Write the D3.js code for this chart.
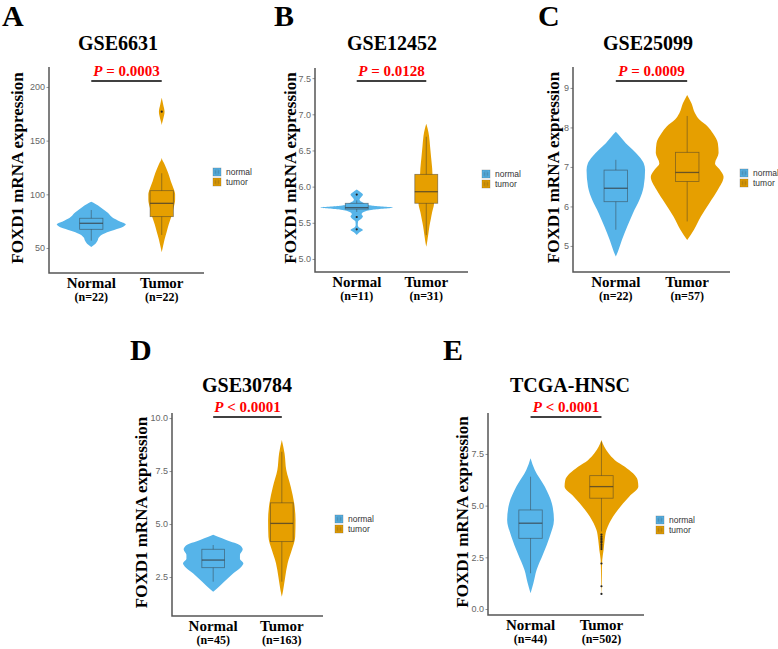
<!DOCTYPE html>
<html>
<head>
<meta charset="utf-8">
<script src="https://cdn.jsdelivr.net/npm/d3@7"></script>
<style>
  body { margin: 0; background: #fff; }
  svg { display: block; }
  .serif { font-family: "Liberation Serif", "Times New Roman", serif; font-weight: bold; }
  .sans { font-family: "Liberation Sans", Arial, sans-serif; }
</style>
</head>
<body>
<div class="wrapper"></div>
<script>
// ---------- data ----------
const panelIds = ["A", "B", "C", "D", "E"];
const datasets = ["GSE6631", "GSE12452", "GSE25099", "GSE30784", "TCGA-HNSC"];
const pLabels = ["= 0.0003", "= 0.0128", "= 0.0009", "< 0.0001", "< 0.0001"];
const groups = ["Normal", "Tumor"];
const legendKeys = ["normal", "tumor"];
const sampleSizes = [[22, 22], [11, 31], [22, 57], [45, 163], [44, 502]];
const yTicks = [
  [50, 100, 150, 200],
  [5.0, 5.5, 6.0, 6.5, 7.0, 7.5],
  [5, 6, 7, 8, 9],
  [2.5, 5.0, 7.5, 10.0],
  [0.0, 2.5, 5.0, 7.5]
];
const yLimits = [[26.7, 218.6], [4.82, 7.64], [4.34, 9.53], [0.66, 10.24], [-0.29, 9.48]];
const tickFormats = ["d", ".1f", "d", ".1f", ".1f"];

// violin outlines: [expression, half width as share of category step]
const normalViolins = [
  [[51,0],[54,0.06],[57,0.09],[60,0.11],[63,0.17],[66,0.29],[69,0.43],[72,0.49],[75,0.40],[78,0.31],[83,0.23],[88,0.13],[91,0.06],[93,0]],
  [[5.33,0],[5.37,0.04],[5.40,0.09],[5.43,0.04],[5.47,0.015],[5.52,0.02],[5.56,0.07],[5.59,0.09],[5.62,0.07],[5.65,0.1],[5.68,0.23],[5.71,0.52],[5.735,0.23],[5.76,0.13],[5.79,0.07],[5.82,0.04],[5.85,0.06],[5.89,0.09],[5.92,0.06],[5.96,0]],
  [[4.73,0],[4.86,0.03],[5.15,0.085],[5.49,0.16],[5.83,0.24],[6.16,0.33],[6.5,0.39],[6.92,0.41],[7.1,0.39],[7.26,0.33],[7.45,0.23],[7.6,0.14],[7.77,0.06],[7.89,0]],
  [[1.81,0],[1.97,0.06],[2.28,0.16],[2.67,0.29],[2.95,0.40],[3.15,0.44],[3.35,0.39],[3.55,0.39],[3.8,0.43],[3.98,0.40],[4.25,0.19],[4.4,0.07],[4.5,0]],
  [[0.76,0],[1.24,0.04],[1.89,0.085],[2.69,0.18],[3.5,0.27],[4.31,0.33],[5.11,0.30],[5.92,0.2],[6.72,0.06],[7.29,0]]
];
const tumorViolins = [
  [[46,0],[52,0.02],[58,0.04],[65,0.07],[72,0.10],[80,0.14],[88,0.17],[95,0.19],[100,0.19],[105,0.17],[112,0.13],[120,0.09],[128,0.04],[134,0],[164,0],[170,0.02],[177,0.04],[184,0.02],[190,0]],
  [[5.17,0],[5.25,0.015],[5.35,0.03],[5.45,0.045],[5.55,0.065],[5.65,0.085],[5.75,0.11],[5.85,0.115],[5.95,0.11],[6.05,0.1],[6.15,0.09],[6.25,0.085],[6.4,0.07],[6.55,0.055],[6.7,0.04],[6.8,0.02],[6.87,0]],
  [[5.15,0],[5.41,0.095],[5.74,0.19],[6.08,0.31],[6.42,0.43],[6.75,0.51],[6.95,0.45],[7.09,0.39],[7.35,0.44],[7.6,0.43],[7.85,0.36],[8.02,0.29],[8.2,0.17],[8.36,0.11],[8.61,0.06],[8.82,0]],
  [[1.57,0],[1.89,0.02],[2.51,0.05],[3.15,0.085],[3.77,0.145],[4.40,0.195],[5.19,0.2],[5.98,0.18],[6.76,0.13],[7.55,0.065],[8.33,0.04],[8.96,0]],
  [[0.7,0],[1.1,0.004],[1.9,0.007],[2.37,0.011],[2.85,0.03],[3.34,0.045],[3.82,0.07],[4.15,0.11],[4.79,0.23],[5.43,0.39],[5.92,0.52],[6.24,0.51],[6.88,0.33],[7.2,0.19],[7.53,0.1],[7.85,0.04],[8.18,0]]
];

// boxes: [lower whisker, q1, median, q3, upper whisker]
const normalBoxes = [
  [56.8, 67.4, 73, 77.7, 85.4],
  [5.65, 5.69, 5.71, 5.77, 5.81],
  [5.41, 6.12, 6.46, 6.92, 7.18],
  [2.28, 2.94, 3.30, 3.81, 4.01],
  [1.73, 3.42, 4.15, 4.79, 6.40]
];
const tumorBoxes = [
  [62.1, 79.2, 91.6, 103.4, 119.6],
  [5.33, 5.77, 5.93, 6.17, 6.69],
  [5.62, 6.63, 6.86, 7.37, 8.29],
  [2.28, 4.17, 5.03, 6.00, 8.41],
  [3.75, 5.36, 5.92, 6.45, 8.09]
];
const normalOutliers = [[], [5.89, 5.58, 5.41], [], [], []];
const tumorOutliers = [
  [177], [], [], [],
  [3.6, 3.5, 3.42, 3.35, 3.27, 3.2, 3.1, 3.0, 2.9, 2.2, 1.1, 0.73]
];

// ---------- layout ----------
const width = 778, height = 649;
const colors = ["#56B4E9", "#E69F00"];

const layout = [
  { lx: 2,   ly: 26,  tx: 118, ty: 50,  py: 76,  x0: 49,  x1: 204, y0: 67,  y1: 273, labX: 17,  legX: 213, legY: 168 },
  { lx: 274, ly: 26,  tx: 392, ty: 50,  py: 76,  x0: 315, x1: 468, y0: 68,  y1: 272, labX: 290, legX: 482, legY: 170 },
  { lx: 538, ly: 26,  tx: 648, ty: 50,  py: 76,  x0: 573, x1: 730, y0: 67,  y1: 272, labX: 553, legX: 740, legY: 169 },
  { lx: 130, ly: 360, tx: 247, ty: 392, py: 412, x0: 172, x1: 323, y0: 413, y1: 616, labX: 141, legX: 335, legY: 515 },
  { lx: 443, ly: 360, tx: 570, ty: 392, py: 412, x0: 488, x1: 644, y0: 413, y1: 615, labX: 462, legX: 656, legY: 516 }
];

const svg = d3.select(".wrapper").append("svg")
  .attr("width", width)
  .attr("height", height);

panelIds.forEach((id, p) => {
  const L = layout[p];
  const g = svg.append("g").attr("class", "panel").attr("id", "panel_" + id);

  const x = d3.scalePoint().domain(groups).range([L.x0, L.x1]).padding(0.6);
  const step = x.step();
  const y = d3.scaleLinear().domain(yLimits[p]).range([L.y1, L.y0]);
  const w = d3.scaleLinear().domain([0, 1]).range([0, step]);
  const bw = step * 0.33;

  // panel letter & title
  g.append("text").attr("class", "serif")
    .attr("x", L.lx).attr("y", L.ly)
    .style("font-size", "30px")
    .text(id);

  g.append("text").attr("class", "serif")
    .attr("x", L.tx).attr("y", L.ty)
    .attr("text-anchor", "middle")
    .style("font-size", "20px")
    .text(datasets[p]);

  // violins, boxes, outliers
  const violins = [normalViolins[p], tumorViolins[p]];
  const boxes = [normalBoxes[p], tumorBoxes[p]];
  const outliers = [normalOutliers[p], tumorOutliers[p]];

  groups.forEach((grp, k) => {
    const cx = x(grp);
    const area = d3.area()
      .curve(d3.curveMonotoneY)
      .y((d) => y(d[0]))
      .x0((d) => cx - w(d[1]))
      .x1((d) => cx + w(d[1]));

    g.append("path")
      .datum(violins[k])
      .attr("d", area)
      .attr("fill", colors[k]);

    const b = boxes[k];
    const bg = g.append("g").attr("class", "box");
    bg.append("line")
      .attr("x1", cx).attr("x2", cx)
      .attr("y1", y(b[0])).attr("y2", y(b[4]))
      .attr("stroke", "#333").attr("stroke-opacity", 0.55).attr("stroke-width", 0.8);
    bg.append("rect")
      .attr("x", cx - bw / 2).attr("width", bw)
      .attr("y", y(b[3])).attr("height", y(b[1]) - y(b[3]))
      .attr("fill", colors[k])
      .attr("stroke", "#333").attr("stroke-opacity", 0.55).attr("stroke-width", 0.8);
    bg.append("line")
      .attr("x1", cx - bw / 2).attr("x2", cx + bw / 2)
      .attr("y1", y(b[2])).attr("y2", y(b[2]))
      .attr("stroke", "#333").attr("stroke-opacity", 0.7).attr("stroke-width", 1.3);

    g.selectAll(null)
      .data(outliers[k])
      .enter()
      .append("circle")
      .attr("cx", cx)
      .attr("cy", (d) => y(d))
      .attr("r", 1.1)
      .attr("fill", "#222");
  });

  // axes
  const yAxis = d3.axisLeft(y)
    .tickValues(yTicks[p])
    .tickSize(2.5)
    .tickPadding(1.5)
    .tickFormat(d3.format(tickFormats[p]));
  const ya = g.append("g")
    .attr("transform", "translate(" + L.x0 + ",0)")
    .call(yAxis);
  ya.select(".domain").remove();
  ya.selectAll(".tick line").attr("stroke", "#777").attr("stroke-width", 0.8);
  ya.selectAll(".tick text")
    .attr("class", "sans")
    .attr("fill", "#666")
    .style("font-size", "9px");

  g.append("path")
    .attr("d", "M" + L.x0 + "," + L.y0 + "V" + L.y1 + "H" + L.x1)
    .attr("fill", "none")
    .attr("stroke", "#555")
    .attr("stroke-width", 1.5);

  // y label
  g.append("text").attr("class", "serif")
    .attr("transform", "translate(" + L.labX + "," + ((L.y0 + L.y1) / 2 - 2) + ") rotate(-90)")
    .attr("text-anchor", "middle")
    .attr("dy", "0.35em")
    .style("font-size", "17px")
    .text("FOXD1 mRNA expression");

  // x labels
  const xl = g.selectAll(null).data(groups).enter();
  xl.append("text").attr("class", "serif")
    .attr("x", (d) => x(d)).attr("y", L.y1 + 15)
    .attr("text-anchor", "middle")
    .style("font-size", "15px")
    .text((d) => d);
  xl.append("text").attr("class", "serif")
    .attr("x", (d) => x(d)).attr("y", L.y1 + 28)
    .attr("text-anchor", "middle")
    .style("font-size", "12px")
    .text((d, i) => "(n=" + sampleSizes[p][i] + ")");

  // p value and bar
  const mid = (x(groups[0]) + x(groups[1])) / 2;
  const pt = g.append("text").attr("class", "serif")
    .attr("x", mid).attr("y", L.py)
    .attr("text-anchor", "middle")
    .attr("fill", "#FF0000")
    .style("font-size", "15px");
  pt.append("tspan").style("font-style", "italic").text("P");
  pt.append("tspan").text(" " + pLabels[p]);

  g.append("line")
    .attr("x1", x(groups[0])).attr("x2", x(groups[1]))
    .attr("y1", L.py + 5).attr("y2", L.py + 5)
    .attr("stroke", "#000").attr("stroke-width", 1.5);

  // legend
  const leg = g.selectAll(null).data(legendKeys).enter()
    .append("g")
    .attr("transform", (d, i) => "translate(" + L.legX + "," + (L.legY + i * 10) + ")");
  leg.append("rect")
    .attr("width", 8).attr("height", 8)
    .attr("fill", (d, i) => colors[i])
    .attr("stroke", "#333").attr("stroke-opacity", 0.4).attr("stroke-width", 0.6);
  leg.append("rect")
    .attr("x", 2).attr("y", 2).attr("width", 4).attr("height", 4)
    .attr("fill", "none")
    .attr("stroke", "#333").attr("stroke-opacity", 0.5).attr("stroke-width", 0.5);
  leg.append("line")
    .attr("x1", 2).attr("x2", 6).attr("y1", 4).attr("y2", 4)
    .attr("stroke", "#333").attr("stroke-opacity", 0.6).attr("stroke-width", 0.5);
  leg.append("text").attr("class", "sans")
    .attr("x", 13).attr("y", 7)
    .attr("fill", "#333")
    .style("font-size", "8.5px")
    .text((d) => d);
});
</script>
</body>
</html>
